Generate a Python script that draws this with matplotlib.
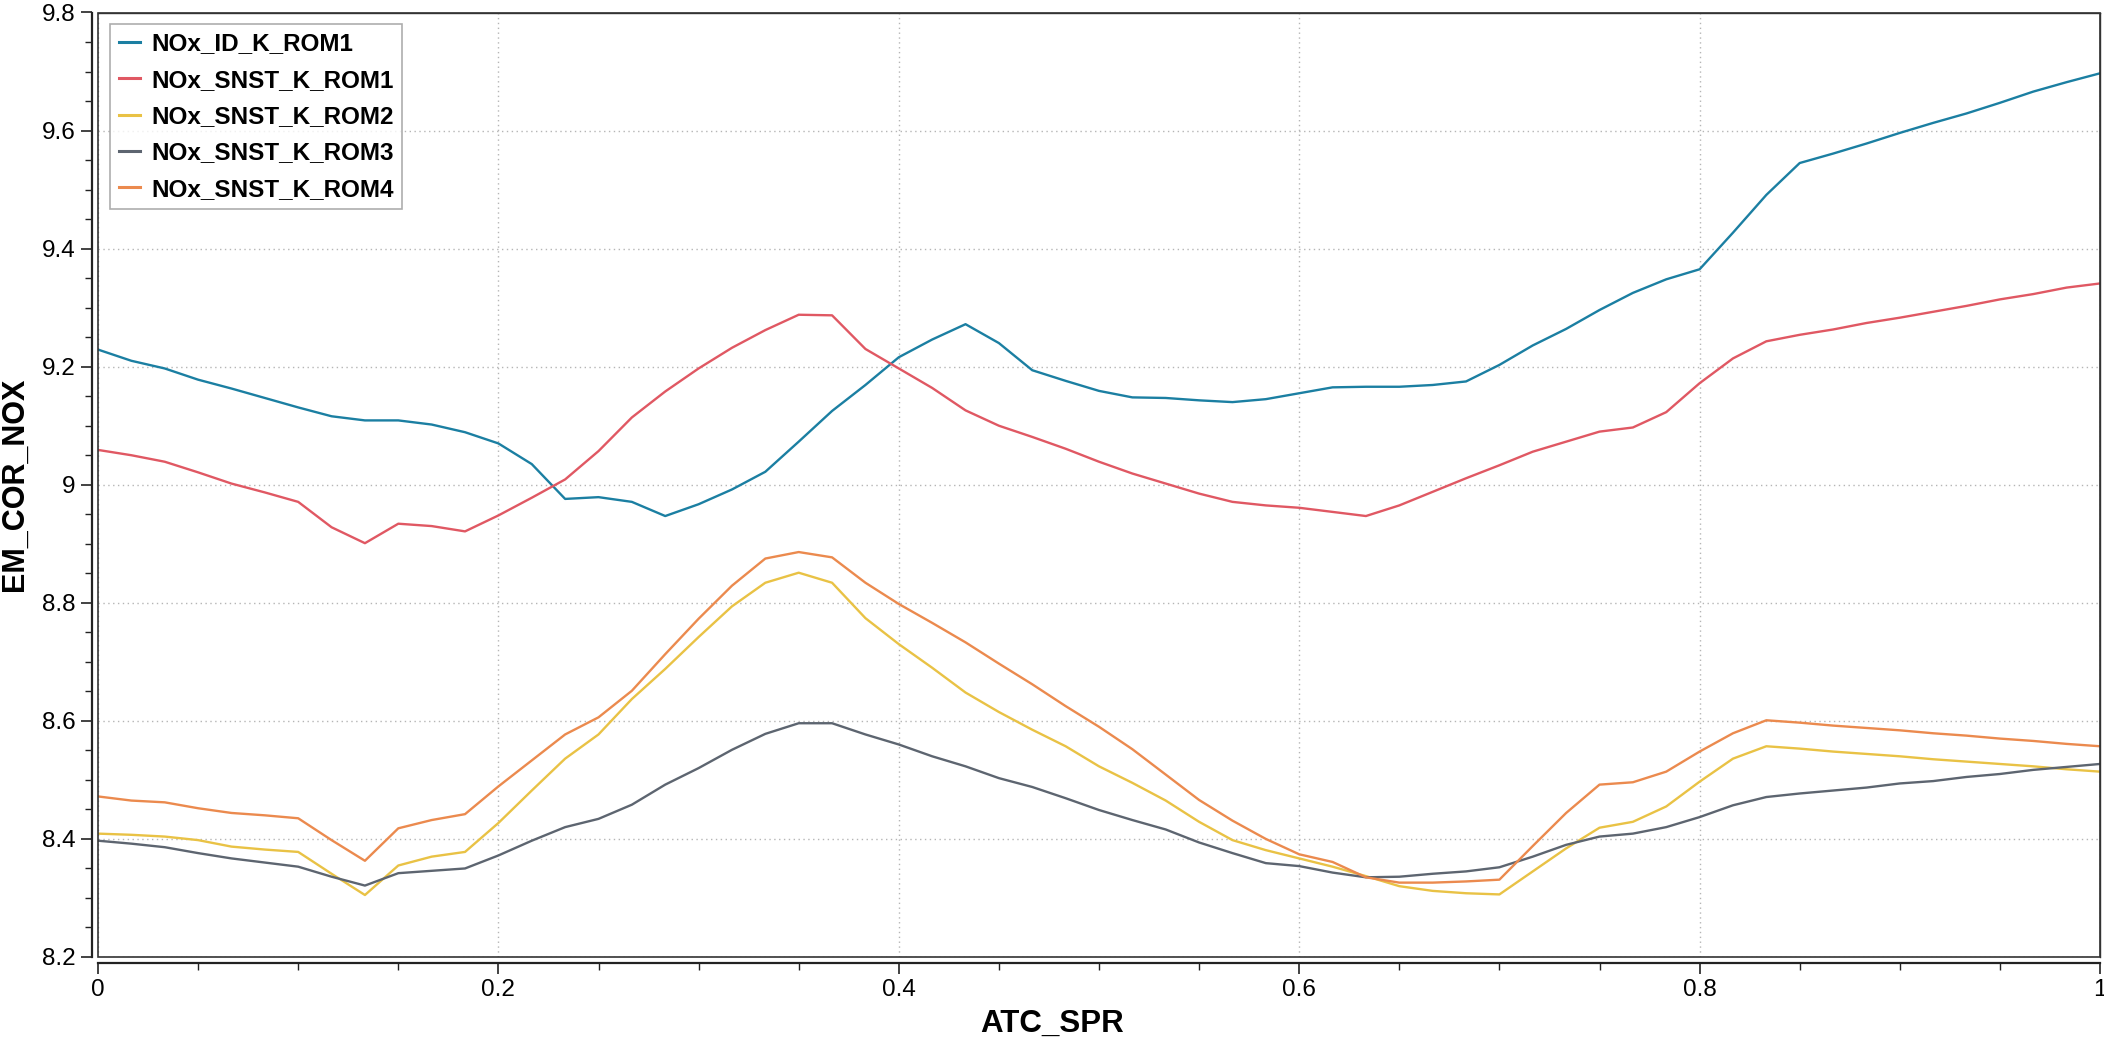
import numpy as np
import matplotlib.pyplot as plt
from matplotlib.ticker import MultipleLocator, FuncFormatter
from matplotlib.patches import Rectangle

plt.rcParams['font.family'] = ['Liberation Sans', 'DejaVu Sans']

atc_spr = np.arange(61) / 60

nox_id_rom1 = [9.229, 9.210, 9.197, 9.178, 9.163, 9.147, 9.131, 9.116, 9.109, 9.109,
               9.102, 9.089, 9.070, 9.035, 8.976, 8.979, 8.971, 8.947, 8.967, 8.992,
               9.022, 9.073, 9.125, 9.169, 9.216, 9.246, 9.272, 9.240, 9.194, 9.176,
               9.159, 9.148, 9.147, 9.143, 9.140, 9.145, 9.155, 9.165, 9.166, 9.166,
               9.169, 9.175, 9.203, 9.236, 9.264, 9.296, 9.325, 9.348, 9.365, 9.427,
               9.491, 9.545, 9.561, 9.578, 9.596, 9.613, 9.629, 9.647, 9.666, 9.682,
               9.697]

nox_snst_rom1 = [9.059, 9.050, 9.039, 9.021, 9.002, 8.987, 8.971, 8.928, 8.901, 8.934,
                 8.930, 8.921, 8.948, 8.978, 9.009, 9.057, 9.114, 9.158, 9.197, 9.232,
                 9.262, 9.288, 9.287, 9.230, 9.197, 9.164, 9.126, 9.100, 9.081, 9.061,
                 9.039, 9.019, 9.002, 8.985, 8.971, 8.965, 8.961, 8.954, 8.947, 8.965,
                 8.988, 9.011, 9.033, 9.056, 9.073, 9.090, 9.097, 9.123, 9.172, 9.214,
                 9.243, 9.254, 9.263, 9.274, 9.283, 9.293, 9.303, 9.314, 9.323, 9.334,
                 9.341]

nox_snst_rom2 = [8.409, 8.407, 8.404, 8.398, 8.387, 8.382, 8.378, 8.341, 8.305, 8.355,
                 8.370, 8.378, 8.427, 8.482, 8.536, 8.577, 8.637, 8.688, 8.742, 8.794,
                 8.834, 8.851, 8.834, 8.774, 8.730, 8.690, 8.648, 8.615, 8.585, 8.557,
                 8.523, 8.495, 8.465, 8.429, 8.398, 8.381, 8.367, 8.353, 8.337, 8.320,
                 8.312, 8.308, 8.306, 8.345, 8.384, 8.419, 8.429, 8.455, 8.497, 8.536,
                 8.557, 8.553, 8.548, 8.544, 8.540, 8.535, 8.531, 8.527, 8.523, 8.518,
                 8.514]

nox_snst_rom3 = [8.397, 8.392, 8.386, 8.376, 8.367, 8.360, 8.353, 8.336, 8.321, 8.342,
                 8.346, 8.350, 8.372, 8.397, 8.420, 8.434, 8.458, 8.492, 8.520, 8.551,
                 8.578, 8.596, 8.596, 8.577, 8.560, 8.540, 8.523, 8.503, 8.488, 8.469,
                 8.449, 8.432, 8.416, 8.394, 8.376, 8.359, 8.354, 8.343, 8.335, 8.336,
                 8.341, 8.345, 8.352, 8.370, 8.390, 8.404, 8.409, 8.420, 8.437, 8.457,
                 8.471, 8.477, 8.482, 8.487, 8.494, 8.498, 8.505, 8.510, 8.517, 8.522,
                 8.527]

nox_snst_rom4 = [8.472, 8.465, 8.462, 8.452, 8.444, 8.440, 8.435, 8.398, 8.363, 8.418,
                 8.432, 8.442, 8.489, 8.533, 8.577, 8.606, 8.651, 8.713, 8.773, 8.829,
                 8.875, 8.886, 8.877, 8.834, 8.798, 8.766, 8.733, 8.697, 8.662, 8.625,
                 8.590, 8.552, 8.509, 8.466, 8.431, 8.400, 8.374, 8.361, 8.335, 8.326,
                 8.326, 8.328, 8.331, 8.388, 8.444, 8.492, 8.496, 8.514, 8.548, 8.579,
                 8.601, 8.597, 8.592, 8.588, 8.584, 8.579, 8.575, 8.570, 8.566, 8.561,
                 8.557]

series = [
    ("NOx_ID_K_ROM1", nox_id_rom1, "#1b7fa2"),
    ("NOx_SNST_K_ROM1", nox_snst_rom1, "#e05863"),
    ("NOx_SNST_K_ROM2", nox_snst_rom2, "#e9c245"),
    ("NOx_SNST_K_ROM3", nox_snst_rom3, "#5d6570"),
    ("NOx_SNST_K_ROM4", nox_snst_rom4, "#eb8a4e"),
]

fig = plt.figure(figsize=(21.04, 10.39), dpi=100)
ax = fig.add_axes([98 / 2104, 1 - 957 / 1039, 2002 / 2104, 944.5 / 1039])

for name, vals, col in series:
    ax.plot(atc_spr, vals, color=col, linewidth=1.7, label=name)

ax.set_xlim(0, 1)
ax.set_ylim(8.2, 9.8)

# Ticks
ax.xaxis.set_major_locator(MultipleLocator(0.2))
ax.xaxis.set_minor_locator(MultipleLocator(0.05))
ax.yaxis.set_major_locator(MultipleLocator(0.2))
ax.yaxis.set_minor_locator(MultipleLocator(0.05))
fmt = FuncFormatter(lambda v, p: ("%.1f" % v).rstrip("0").rstrip(".") if abs(v) > 1e-9 else "0")
ax.xaxis.set_major_formatter(fmt)
ax.yaxis.set_major_formatter(fmt)
ax.tick_params(axis="both", which="major", direction="out", length=8, width=1.2,
               labelsize=17.5, color="#222222", pad=4)
ax.tick_params(axis="both", which="minor", direction="out", length=5, width=1.0,
               color="#222222")

# Grid
ax.grid(True, which="major", color="#b5b5b5", linestyle=(0, (1, 2.5)), linewidth=1.0)

# Spines: offset axis lines plus a frame around the plot area
for side in ["left", "bottom"]:
    ax.spines[side].set_position(("outward", 4))
    ax.spines[side].set_linewidth(1.6)
    ax.spines[side].set_color("#222222")
for side in ["top", "right"]:
    ax.spines[side].set_linewidth(1.0)
    ax.spines[side].set_color("#333333")
ax.add_patch(Rectangle((0, 0), 1, 1, transform=ax.transAxes, fill=False,
                       edgecolor="#333333", linewidth=1.2, clip_on=False, zorder=5))

ax.set_xlabel("ATC_SPR", fontsize=22.5, fontweight="bold")
ax.set_ylabel("EM_COR_NOX", fontsize=22, fontweight="bold")
# x label is centred on the figure, not the plot area
ax.xaxis.set_label_coords((1052 - 98) / 2002, -0.055)
ax.yaxis.set_label_coords(-0.034, 0.5)

leg = ax.legend(loc="upper left", bbox_to_anchor=(0.006, 0.988),
                prop={"weight": "bold", "size": 17.5}, frameon=True, fancybox=False,
                handlelength=0.9, handletextpad=0.45, labelspacing=0.55,
                borderpad=0.35, borderaxespad=0.0)
leg.get_frame().set_edgecolor("#999999")
leg.get_frame().set_linewidth(1.2)
for h in leg.get_lines():
    h.set_linewidth(2.2)

fig.savefig("out.png", dpi=100)
